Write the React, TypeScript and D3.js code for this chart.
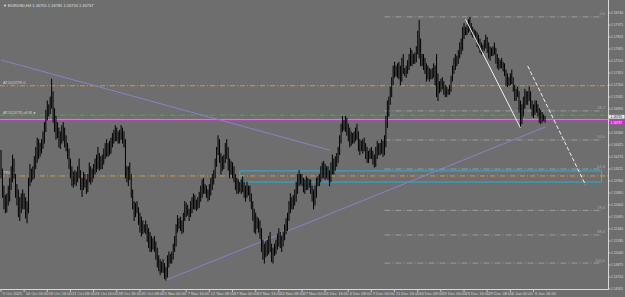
import React from "react";
import * as d3 from "d3";

const W = 625;
const H = 297;

const titleText = "EURUSD,H4  1.16755 1.16781 1.16720 1.16737";

const priceTicks = [
  1.1813, 1.17975, 1.1782, 1.17665, 1.1751, 1.17355, 1.172, 1.17045, 1.1689, 1.16735, 1.1658, 1.16425,
  1.1627, 1.16115, 1.1596, 1.15805, 1.1565, 1.15495, 1.1534, 1.15185, 1.1503, 1.14875, 1.1472, 1.14565,
];

const timeLabels = [
  "9 Oct 2025", "14 Oct 00:00", "16 Oct 16:00", "21 Oct 08:00", "24 Oct 00:00", "28 Oct 16:00",
  "31 Oct 08:00", "5 Nov 00:00", "7 Nov 16:00", "12 Nov 08:00", "17 Nov 00:00", "19 Nov 16:00",
  "24 Nov 08:00", "27 Nov 00:00", "1 Dec 16:00", "4 Dec 08:00", "9 Dec 00:00", "11 Dec 16:00",
  "16 Dec 08:00", "19 Dec 00:00", "23 Dec 16:00", "29 Dec 08:00", "2 Jan 00:00", "6 Jan 16:00",
];
const timeLabelBars = [
  0, 16, 32, 48, 64, 80, 96, 112, 128, 144, 160, 176, 192, 208, 224, 240, 256, 272, 288, 304, 320, 336, 352, 368,
];

const barHigh = [
  1.1636, 1.1612, 1.159, 1.1578, 1.158, 1.159, 1.16, 1.1615, 1.163, 1.1625,
  1.1605, 1.1592, 1.1585, 1.1575, 1.158, 1.1585, 1.158, 1.1575, 1.157, 1.16,
  1.1618, 1.1612, 1.1615, 1.1628, 1.164, 1.1652, 1.165, 1.1645, 1.165, 1.166,
  1.1672, 1.1688, 1.17, 1.1695, 1.1705, 1.1728, 1.1712, 1.169, 1.168, 1.1672,
  1.1665, 1.166, 1.1668, 1.1672, 1.1665, 1.1655, 1.1645, 1.1638, 1.1625, 1.1615,
  1.1608, 1.161, 1.1608, 1.1615, 1.1625, 1.161, 1.16, 1.1608, 1.1605, 1.1598,
  1.1605, 1.162, 1.1615, 1.1612, 1.1618, 1.1625, 1.163, 1.164, 1.1632, 1.1628,
  1.163, 1.1638, 1.1645, 1.165, 1.1645, 1.1648, 1.1652, 1.1658, 1.1662, 1.1668,
  1.1665, 1.166, 1.1662, 1.1668, 1.1665, 1.166, 1.165, 1.1615, 1.1615, 1.162,
  1.1605, 1.1585, 1.157, 1.1568, 1.157, 1.1562, 1.1555, 1.155, 1.1545, 1.154,
  1.1545, 1.154, 1.1535, 1.153, 1.1525, 1.1522, 1.1525, 1.1518, 1.151, 1.15,
  1.1495, 1.1492, 1.1495, 1.149, 1.1485, 1.15, 1.1505, 1.1502, 1.1505, 1.1515,
  1.1525, 1.154, 1.1552, 1.1548, 1.155, 1.1545, 1.1555, 1.157, 1.1568, 1.1565,
  1.156, 1.157, 1.1575, 1.158, 1.1578, 1.1572, 1.1575, 1.1582, 1.159, 1.1598,
  1.16, 1.1592, 1.159, 1.1585, 1.1592, 1.16, 1.1605, 1.161, 1.1625, 1.164,
  1.1655, 1.165, 1.1632, 1.1628, 1.163, 1.1645, 1.165, 1.164, 1.1625, 1.1622,
  1.162, 1.1615, 1.1605, 1.16, 1.1598, 1.1595, 1.1598, 1.1602, 1.1595, 1.159,
  1.1595, 1.159, 1.159, 1.158, 1.157, 1.156, 1.1555, 1.155, 1.1548, 1.1545,
  1.1535, 1.152, 1.1515, 1.1518, 1.152, 1.1525, 1.153, 1.1515, 1.151, 1.1515,
  1.152, 1.1528, 1.1535, 1.153, 1.1525, 1.153, 1.154, 1.1548, 1.1555, 1.157,
  1.158, 1.1575, 1.1578, 1.1585, 1.1595, 1.1605, 1.161, 1.1605, 1.1605, 1.16,
  1.1598, 1.1602, 1.16, 1.1598, 1.1598, 1.159, 1.1585, 1.159, 1.16, 1.1602,
  1.1605, 1.1615, 1.162, 1.1622, 1.1618, 1.1615, 1.1615, 1.161, 1.162, 1.163,
  1.1625, 1.1628, 1.1632, 1.164, 1.1655, 1.167, 1.168, 1.1675, 1.168, 1.1678,
  1.167, 1.1665, 1.166, 1.1658, 1.166, 1.1665, 1.167, 1.166, 1.165, 1.1648,
  1.165, 1.1652, 1.1645, 1.164, 1.1635, 1.1638, 1.164, 1.1635, 1.163, 1.164,
  1.1648, 1.1645, 1.1645, 1.165, 1.1648, 1.1655, 1.168, 1.17, 1.1705, 1.1718,
  1.173, 1.1745, 1.175, 1.1745, 1.1748, 1.175, 1.1745, 1.1755, 1.176, 1.1742,
  1.1745, 1.1752, 1.176, 1.1768, 1.1765, 1.176, 1.1762, 1.177, 1.179, 1.1804,
  1.178, 1.176, 1.176, 1.1755, 1.1748, 1.1745, 1.1742, 1.174, 1.1742, 1.1748,
  1.1745, 1.176, 1.1735, 1.1725, 1.1728, 1.173, 1.1725, 1.172, 1.1718, 1.1715,
  1.172, 1.1732, 1.1745, 1.1755, 1.176, 1.1758, 1.1765, 1.1775, 1.178, 1.1795,
  1.18, 1.1795, 1.1798, 1.1805, 1.1808, 1.18, 1.1795, 1.1792, 1.179, 1.1788,
  1.1785, 1.178, 1.1775, 1.1772, 1.1778, 1.1785, 1.1782, 1.1775, 1.177, 1.1768,
  1.177, 1.1775, 1.1768, 1.176, 1.1755, 1.1752, 1.1755, 1.175, 1.1748, 1.174,
  1.1735, 1.173, 1.1735, 1.174, 1.173, 1.172, 1.1715, 1.1718, 1.1712, 1.17,
  1.1695, 1.1705, 1.1715, 1.1712, 1.1712, 1.1718, 1.1712, 1.17, 1.1695, 1.17,
  1.17, 1.1695, 1.169, 1.1688, 1.1685, 1.1682, 1.168,
];

const barLow = [
  1.16, 1.1575, 1.156, 1.1555, 1.1556, 1.1565, 1.157, 1.1585, 1.1595, 1.16,
  1.1575, 1.1565, 1.155, 1.1545, 1.1555, 1.156, 1.156, 1.1548, 1.1542, 1.1555,
  1.159, 1.1595, 1.1598, 1.16, 1.1612, 1.162, 1.1625, 1.1628, 1.1632, 1.1638,
  1.1645, 1.166, 1.1675, 1.168, 1.1683, 1.169, 1.1672, 1.166, 1.165, 1.1652,
  1.164, 1.1638, 1.1645, 1.1648, 1.164, 1.1635, 1.1625, 1.1612, 1.16, 1.159,
  1.1588, 1.1592, 1.159, 1.1595, 1.16, 1.1585, 1.1576, 1.1585, 1.1588, 1.158,
  1.1582, 1.1595, 1.1592, 1.1595, 1.16, 1.1605, 1.1608, 1.1612, 1.161, 1.1612,
  1.1612, 1.1618, 1.1625, 1.1628, 1.1628, 1.163, 1.1632, 1.164, 1.1645, 1.1648,
  1.1648, 1.1645, 1.1645, 1.165, 1.1645, 1.164, 1.16, 1.1595, 1.159, 1.1598,
  1.1575, 1.156, 1.1545, 1.155, 1.1555, 1.154, 1.153, 1.1525, 1.1528, 1.153,
  1.1528, 1.1518, 1.151, 1.1505, 1.1505, 1.1508, 1.1505, 1.1495, 1.1485, 1.148,
  1.1475, 1.1478, 1.1478, 1.147, 1.1468, 1.1472, 1.1485, 1.149, 1.149, 1.1495,
  1.1505, 1.1512, 1.153, 1.1535, 1.1532, 1.1528, 1.153, 1.1545, 1.155, 1.1552,
  1.1545, 1.155, 1.1555, 1.156, 1.156, 1.1558, 1.156, 1.1562, 1.157, 1.1575,
  1.158, 1.158, 1.1575, 1.157, 1.1572, 1.1578, 1.1585, 1.1592, 1.16, 1.1615,
  1.163, 1.162, 1.1605, 1.161, 1.1612, 1.162, 1.1625, 1.161, 1.16, 1.1605,
  1.16, 1.1595, 1.1585, 1.158, 1.158, 1.1582, 1.158, 1.1582, 1.1575, 1.157,
  1.1575, 1.1578, 1.157, 1.156, 1.1545, 1.153, 1.1528, 1.1535, 1.153, 1.1522,
  1.1505, 1.1495, 1.149, 1.1498, 1.15, 1.1502, 1.1505, 1.1492, 1.149, 1.15,
  1.1502, 1.1508, 1.1512, 1.151, 1.1505, 1.1512, 1.152, 1.1528, 1.1532, 1.1545,
  1.1555, 1.156, 1.156, 1.1565, 1.157, 1.158, 1.159, 1.1592, 1.159, 1.1582,
  1.158, 1.1585, 1.1585, 1.1588, 1.158, 1.157, 1.156, 1.1565, 1.1575, 1.159,
  1.159, 1.1595, 1.16, 1.16, 1.1598, 1.16, 1.1598, 1.159, 1.1595, 1.1605,
  1.1605, 1.161, 1.1615, 1.162, 1.163, 1.1645, 1.166, 1.1662, 1.166, 1.1655,
  1.1648, 1.164, 1.1642, 1.1645, 1.1645, 1.1648, 1.165, 1.1635, 1.163, 1.1635,
  1.1632, 1.1635, 1.1625, 1.162, 1.162, 1.1625, 1.1625, 1.1618, 1.1614, 1.1615,
  1.1625, 1.163, 1.163, 1.1632, 1.1628, 1.163, 1.164, 1.1665, 1.168, 1.1695,
  1.1705, 1.172, 1.173, 1.1732, 1.173, 1.1728, 1.172, 1.1725, 1.1735, 1.1732,
  1.173, 1.1735, 1.174, 1.1745, 1.1745, 1.1748, 1.1748, 1.175, 1.176, 1.1755,
  1.1745, 1.1745, 1.174, 1.1735, 1.1725, 1.1728, 1.1725, 1.1728, 1.1728, 1.173,
  1.172, 1.1705, 1.17, 1.171, 1.1712, 1.1715, 1.1708, 1.1705, 1.1705, 1.1708,
  1.1708, 1.1712, 1.1725, 1.1735, 1.174, 1.1745, 1.1748, 1.1755, 1.176, 1.1765,
  1.178, 1.1785, 1.1785, 1.1788, 1.179, 1.1785, 1.1782, 1.1785, 1.1778, 1.177,
  1.1768, 1.1762, 1.176, 1.1762, 1.1765, 1.1768, 1.1762, 1.1755, 1.1752, 1.1758,
  1.1758, 1.176, 1.1748, 1.1742, 1.174, 1.1742, 1.1742, 1.1738, 1.1732, 1.172,
  1.1718, 1.172, 1.172, 1.1722, 1.1712, 1.17, 1.17, 1.1705, 1.1685, 1.1665,
  1.167, 1.168, 1.169, 1.1695, 1.1695, 1.17, 1.169, 1.168, 1.1678, 1.1682,
  1.1685, 1.168, 1.1672, 1.167, 1.1672, 1.1674, 1.1672,
];

// Fibonacci retracement drawn from the Nov 21 low to the Dec 24 high
const fibLevels = [0, 38.2, 50, 61.8, 78.6, 88.6, 100];
const fibHighPrice = 1.1808;
const fibLowPrice = 1.149;
const fibStartBar = 265;

const levelNames = ["AT2024TR.0", "AT2024TR.all.W \u25CF", "TR0 \u25AA\u25AA"];
const levelPrices = [1.1719, 1.1681, 1.16025];
const levelColors = ["#d9a13a", "#4caf50", "#d9a13a"];

const bidPrice = 1.16755;
const askPrice = 1.16737;

const boxTop = 1.1609;
const boxBottom = 1.15947;
const boxStartBar = 165;
const boxEndBar = 415;

// trendlines: [bar1, price1, bar2, price2]
const purpleLines = [
  [0, 1.17523, 227, 1.1636],
  [114, 1.1468, 376, 1.16657],
];
const whiteSolid = [321, 1.1805, 359, 1.16645];
const whiteDashed = [364, 1.17445, 404, 1.15908];

export default function App() {
  const plotRight = 608;
  const plotBottom = 289;
  const y = d3
    .scaleLinear()
    .domain([priceTicks[priceTicks.length - 1], priceTicks[0]])
    .range([289, 13]);
  const x = d3.scaleLinear().domain([0, 368]).range([1, 533.5]);

  const bg = "#6e6e6e";
  const axisCol = "#d8d8d8";
  const font = "'Liberation Sans', Arial, sans-serif";
  const ptxt = (p: number) => p.toFixed(5);

  const fibY = (lv: number) => y(fibHighPrice - ((fibHighPrice - fibLowPrice) * lv) / 100);
  // the current-price labels cover the axis label they sit on, as in the terminal
  const hiddenByPriceLabel = (p: number) => Math.abs(y(p) - y(askPrice)) < 5;

  return (
    <div style={{ position: "absolute", left: 0, top: 0 }}>
      <svg width={W} height={H} style={{ display: "block" }}>
        <rect x={0} y={0} width={W} height={H} fill={bg} />
        <defs>
          <clipPath id="plot">
            <rect x={0} y={0} width={plotRight} height={plotBottom} />
          </clipPath>
        </defs>
        <g clipPath="url(#plot)">
          {fibLevels.map((lv, i) => (
            <g key={"f" + i}>
              <line
                x1={x(fibStartBar)}
                x2={plotRight - 6}
                y1={fibY(lv)}
                y2={fibY(lv)}
                stroke="#a8a8a8"
                strokeWidth={0.8}
                strokeDasharray="6 2 1 2"
              />
              <text x={plotRight - 3} y={fibY(lv) - 1.5} fontSize={4} fill="#a8a8a8" textAnchor="end" fontFamily={font}>
                {lv.toFixed(1)}
              </text>
            </g>
          ))}
          <rect
            x={x(boxStartBar)}
            y={y(boxTop)}
            width={Math.min(x(boxEndBar), plotRight - 6) - x(boxStartBar)}
            height={y(boxBottom) - y(boxTop)}
            fill="none"
            stroke="#2ab0d8"
            strokeWidth={1}
          />
          {levelPrices.map((p, i) => (
            <g key={"l" + i}>
              <line x1={0} x2={plotRight} y1={y(p)} y2={y(p)} stroke={levelColors[i]} strokeWidth={0.9} strokeDasharray="5 2 1 2" />
              <text x={3} y={y(p) - 1.5} fontSize={4} fill="#d0d0d0" fontFamily={font}>
                {levelNames[i]}
              </text>
            </g>
          ))}
          <line x1={0} x2={plotRight} y1={y(bidPrice)} y2={y(bidPrice)} stroke="#b8b8b8" strokeWidth={0.7} />
          <line x1={0} x2={plotRight} y1={y(askPrice)} y2={y(askPrice)} stroke="#d030d0" strokeWidth={0.9} />
          {purpleLines.map((l, i) => (
            <line key={"p" + i} x1={x(l[0])} y1={y(l[1])} x2={x(l[2])} y2={y(l[3])} stroke="#8a80c8" strokeWidth={1} />
          ))}
          {barHigh.map((h, i) => (
            <line key={"b" + i} x1={x(i)} x2={x(i)} y1={y(h)} y2={y(barLow[i]) + 0.5} stroke="#000" strokeWidth={1} />
          ))}
          <line x1={x(whiteSolid[0])} y1={y(whiteSolid[1])} x2={x(whiteSolid[2])} y2={y(whiteSolid[3])} stroke="#f0f0f0" strokeWidth={1} />
          <line
            x1={x(whiteDashed[0])}
            y1={y(whiteDashed[1])}
            x2={x(whiteDashed[2])}
            y2={y(whiteDashed[3])}
            stroke="#f0f0f0"
            strokeWidth={1}
            strokeDasharray="4 2"
          />
        </g>
        <text x={3} y={7} fontSize={4} fill="#e0e0e0" fontFamily={font}>
          {"\u25BC " + titleText}
        </text>
        <line x1={plotRight + 0.5} x2={plotRight + 0.5} y1={0} y2={plotBottom + 0.5} stroke={axisCol} strokeWidth={1} />
        <line x1={0} x2={plotRight + 0.5} y1={plotBottom + 0.5} y2={plotBottom + 0.5} stroke={axisCol} strokeWidth={1} />
        {priceTicks.map((p, i) => (
          <g key={"yt" + i}>
            <line x1={plotRight} x2={plotRight + 2.5} y1={y(p)} y2={y(p)} stroke={axisCol} strokeWidth={0.8} />
            {!hiddenByPriceLabel(p) && (
              <text
                x={plotRight + 3}
                y={y(p) + 1.4}
                fontSize={3.8}
                fill={axisCol}
                fontFamily={font}
                textLength={12}
                lengthAdjust="spacingAndGlyphs"
              >
                {ptxt(p)}
              </text>
            )}
          </g>
        ))}
        {timeLabels.map((t, i) => (
          <g key={"xt" + i}>
            <line x1={x(timeLabelBars[i])} x2={x(timeLabelBars[i])} y1={plotBottom} y2={plotBottom + 3} stroke={axisCol} strokeWidth={0.8} />
            <text x={x(timeLabelBars[i]) + 1.5} y={plotBottom + 5.5} fontSize={4} fill={axisCol} fontFamily={font}>
              {t}
            </text>
          </g>
        ))}
        <rect x={plotRight + 1} y={y(bidPrice) - 4.6} width={15.5} height={3.8} fill="#e8e8e8" />
        <rect x={plotRight + 1} y={y(askPrice) - 0.4} width={15.5} height={3.8} fill="#e020e0" />
        <text
          x={plotRight + 2.5}
          y={y(bidPrice) - 1.6}
          fontSize={3}
          fill="#000"
          fontFamily={font}
          textLength={11.5}
          lengthAdjust="spacingAndGlyphs"
        >
          {ptxt(bidPrice)}
        </text>
        <text
          x={plotRight + 2.5}
          y={y(askPrice) + 2.7}
          fontSize={3}
          fill="#fff"
          fontFamily={font}
          textLength={11.5}
          lengthAdjust="spacingAndGlyphs"
        >
          {ptxt(askPrice)}
        </text>
      </svg>
    </div>
  );
}
